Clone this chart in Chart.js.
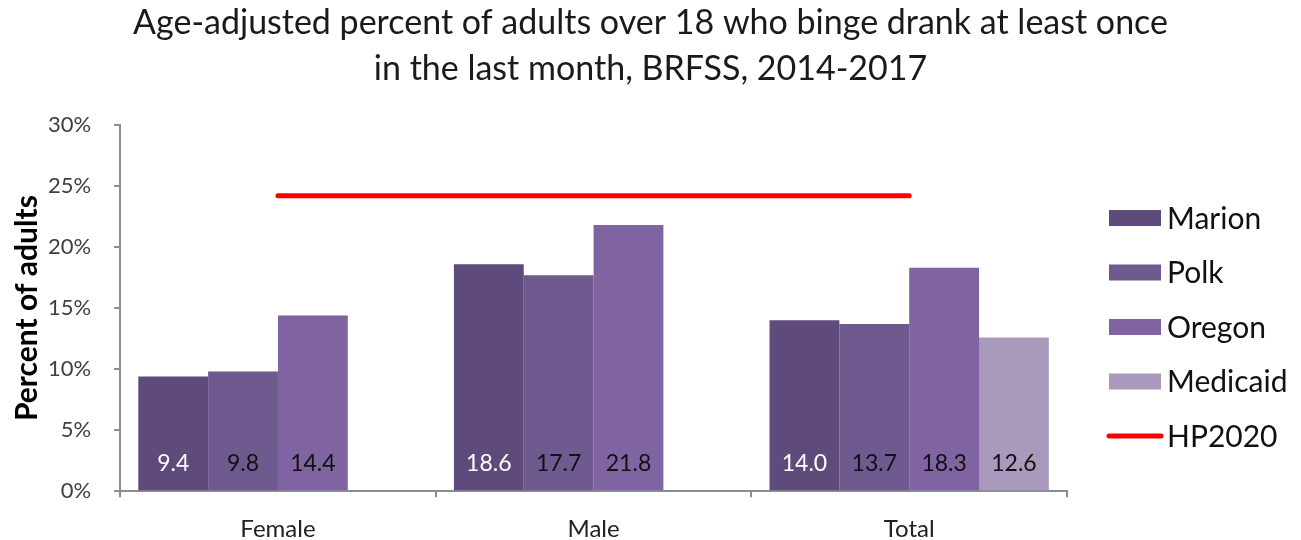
<!DOCTYPE html>
<html>
<head>
<meta charset="utf-8">
<script src="https://cdn.jsdelivr.net/npm/chart.js@4.4.1/dist/chart.umd.min.js"></script>
<style>
  html, body { margin: 0; padding: 0; background: #fff; }
  #wrap { width: 1301px; height: 540px; }
</style>
</head>
<body>
<div id="wrap"><canvas id="myChart" width="1301" height="540"></canvas></div>
<script>
const categories = ['Female', 'Male', 'Total'];
const marion = [9.4, 18.6, 14.0];
const polk = [9.8, 17.7, 13.7];
const oregon = [14.4, 21.8, 18.3];
const medicaid = [null, null, 12.6];
const hp2020 = [24.2, 24.2, 24.2];
const titleLines = [
  'Age-adjusted percent of adults over 18 who binge drank at least once',
  'in the last month, BRFSS, 2014-2017',
];

const FONT = 'Lato, "Open Sans", sans-serif';

// title centred on the whole canvas, not just the plot + axes
const pageTitle = {
  id: 'pageTitle',
  afterDraw(chart) {
    const { ctx, width } = chart;
    ctx.save();
    ctx.font = `34px ${FONT}`;
    ctx.fillStyle = '#1a1a1a';
    ctx.textAlign = 'center';
    ctx.textBaseline = 'middle';
    titleLines.forEach((line, i) => ctx.fillText(line, width / 2, 23 + i * 46));
    ctx.restore();
  },
};

// values written at the foot of each bar
const barLabels = {
  id: 'barLabels',
  afterDatasetsDraw(chart) {
    const { ctx } = chart;
    const zero = chart.scales.y.getPixelForValue(0);
    ctx.save();
    ctx.font = `23px ${FONT}`;
    ctx.textAlign = 'center';
    ctx.textBaseline = 'middle';
    chart.data.datasets.forEach((ds, i) => {
      if (ds.type === 'line') return;
      chart.getDatasetMeta(i).data.forEach((bar, j) => {
        const v = ds.data[j];
        if (v === null) return;
        ctx.fillStyle = ds.labelColor;
        ctx.fillText(v.toFixed(1), bar.x, zero - 28);
      });
    });
    ctx.restore();
  },
};

// legend drawn by hand so the swatches and spacing follow the original
const sideLegend = {
  id: 'sideLegend',
  afterDraw(chart) {
    const { ctx, chartArea } = chart;
    const left = chartArea.right + 42;
    const firstRow = chartArea.top + 93;
    const step = 54.5;
    ctx.save();
    ctx.font = `30px ${FONT}`;
    ctx.textBaseline = 'middle';
    chart.data.datasets.forEach((ds, i) => {
      const y = firstRow + i * step;
      if (ds.type === 'line') {
        ctx.strokeStyle = ds.borderColor;
        ctx.lineWidth = 5;
        ctx.lineCap = 'round';
        ctx.beginPath();
        ctx.moveTo(left, y);
        ctx.lineTo(left + 52, y);
        ctx.stroke();
      } else {
        ctx.fillStyle = ds.backgroundColor;
        ctx.fillRect(left, y - 8, 52, 16);
      }
      ctx.fillStyle = '#111111';
      ctx.fillText(ds.label, left + 58, y + 1);
    });
    ctx.restore();
  },
};

const ctx = document.getElementById('myChart').getContext('2d');
new Chart(ctx, {
  type: 'bar',
  data: {
    labels: categories,
    datasets: [
      { label: 'Marion', data: marion, backgroundColor: '#5f4b7b', labelColor: '#ffffff' },
      { label: 'Polk', data: polk, backgroundColor: '#6f5a90', labelColor: '#111111' },
      { label: 'Oregon', data: oregon, backgroundColor: '#8064a2', labelColor: '#111111' },
      { label: 'Medicaid', data: medicaid, backgroundColor: '#a99abd', labelColor: '#111111' },
      {
        label: 'HP2020',
        type: 'line',
        data: hp2020,
        borderColor: '#ff0000',
        backgroundColor: '#ff0000',
        borderWidth: 5,
        borderCapStyle: 'round',
        pointRadius: 0,
        fill: false,
      },
    ],
  },
  plugins: [pageTitle, barLabels, sideLegend],
  options: {
    responsive: false,
    animation: false,
    datasets: {
      bar: { categoryPercentage: 0.885, barPercentage: 1 },
    },
    layout: {
      padding: { left: 12, right: 234, top: 125, bottom: -22 },
    },
    plugins: {
      title: { display: false },
      legend: { display: false },
      tooltip: { enabled: false },
    },
    scales: {
      x: {
        grid: {
          drawOnChartArea: false,
          drawTicks: true,
          tickLength: 6,
          color: '#8c8c8c',
          lineWidth: 2,
        },
        border: { color: '#8c8c8c', width: 2 },
        ticks: {
          color: '#222222',
          font: { family: FONT, size: 24 },
          padding: 18,
        },
      },
      y: {
        min: 0,
        max: 30,
        ticks: {
          stepSize: 5,
          color: '#404040',
          font: { family: FONT, size: 22 },
          padding: 23,
          callback: (v) => `${v}%`,
        },
        grid: {
          drawOnChartArea: false,
          drawTicks: true,
          tickLength: 6,
          color: '#8c8c8c',
          lineWidth: 2,
        },
        border: { color: '#8c8c8c', width: 2 },
        title: {
          display: true,
          text: 'Percent of adults',
          color: '#000000',
          font: { family: FONT, size: 30, weight: 'bold', lineHeight: 1 },
          padding: { top: 0, bottom: -17 },
        },
      },
    },
  },
});
</script>
</body>
</html>
